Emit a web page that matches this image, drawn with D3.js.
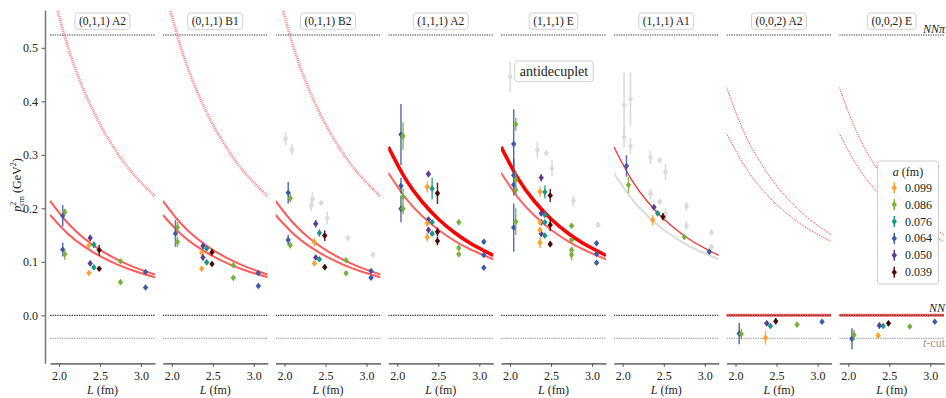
<!DOCTYPE html>
<html>
<head>
<meta charset="utf-8">
<script src="https://cdn.jsdelivr.net/npm/d3@7"></script>
<style>
body { margin: 0; background: #fff; }
text { font-family: "Liberation Serif", "DejaVu Serif", serif; fill: #222; }
</style>
</head>
<body>
<svg width="946" height="398"></svg>
<script>
var panelTitles = ['(0,1,1) A2', '(0,1,1) B1', '(0,1,1) B2', '(1,1,1) A2', '(1,1,1) E', '(1,1,1) A1', '(0,0,2) A2', '(0,0,2) E'];
var spacings = ['0.099', '0.086', '0.076', '0.064', '0.050', '0.039'];
var ensColors = ['#ffa02e', '#78b03a', '#17968a', '#3c5aa6', '#5e3a96', '#4a0a0a'];
var yTicks = [0.0, 0.1, 0.2, 0.3, 0.4, 0.5];
var xTicks = [2.0, 2.5, 3.0];

// thresholds
var NNPI = 0.524, NN = 0.0, TCUT = -0.043;

// non-interacting levels, read at these L values
var curveL = [1.89, 2.1, 2.3, 2.5, 2.7, 2.9, 3.17];
var levelHatch = [0.624, 0.506, 0.4216, 0.357, 0.306, 0.265, 0.222];
var levelUpper = [0.214, 0.1735, 0.1446, 0.1224, 0.105, 0.091, 0.0761];
var levelLower = [0.1876, 0.1535, 0.1293, 0.1106, 0.0957, 0.0838, 0.071];
var levelThick = [0.315, 0.255, 0.2127, 0.180, 0.1543, 0.1338, 0.112];
var levelThin = [0.2665, 0.2195, 0.186, 0.160, 0.1392, 0.1226, 0.1047];
var level002Upper = [0.426, 0.3435, 0.2864, 0.2424, 0.2078, 0.180, 0.150];
var level002Lower = [0.340, 0.2816, 0.2397, 0.2072, 0.1812, 0.1602, 0.1376];

// [ensemble, L (fm), p2 (GeV^2), error]
var p011A2 = [[3, 2.045, 0.186, 0.02], [1, 2.07, 0.193, 0.006], [3, 2.045, 0.123, 0.013], [1, 2.07, 0.114, 0.01],
  [4, 2.38, 0.1445, 0.006], [0, 2.365, 0.131, 0.005], [2, 2.425, 0.132, 0.006], [5, 2.49, 0.122, 0.01],
  [4, 2.38, 0.097, 0.005], [0, 2.365, 0.079, 0.004], [2, 2.425, 0.0897, 0.005], [5, 2.49, 0.087, 0.004],
  [1, 2.75, 0.101, 0.003], [1, 2.75, 0.062, 0.003], [3, 3.055, 0.081, 0.004], [3, 3.055, 0.052, 0.003]];
var p011B1 = [[3, 2.045, 0.153, 0.025], [1, 2.07, 0.1645, 0.01], [1, 2.07, 0.137, 0.01],
  [4, 2.38, 0.1295, 0.006], [0, 2.365, 0.117, 0.005], [2, 2.425, 0.125, 0.005], [5, 2.49, 0.118, 0.006],
  [4, 2.38, 0.108, 0.006], [0, 2.365, 0.087, 0.005], [2, 2.425, 0.099, 0.005], [5, 2.49, 0.096, 0.004],
  [1, 2.75, 0.0935, 0.003], [1, 2.75, 0.070, 0.003], [3, 3.055, 0.079, 0.003], [3, 3.055, 0.055, 0.003]];
var p011B2 = [[3, 2.045, 0.229, 0.02], [1, 2.07, 0.219, 0.008], [3, 2.045, 0.1407, 0.01], [1, 2.07, 0.131, 0.006],
  [4, 2.38, 0.171, 0.007], [2, 2.425, 0.154, 0.007], [5, 2.49, 0.149, 0.01], [0, 2.365, 0.1365, 0.008],
  [4, 2.38, 0.108, 0.004], [2, 2.425, 0.1047, 0.004], [0, 2.365, 0.097, 0.004], [5, 2.49, 0.090, 0.005],
  [1, 2.75, 0.103, 0.004], [1, 2.75, 0.0785, 0.003], [3, 3.055, 0.0828, 0.004], [3, 3.055, 0.0703, 0.004]];
var p111A2 = [[3, 2.045, 0.338, 0.057], [1, 2.07, 0.335, 0.026], [3, 2.045, 0.242, 0.015], [3, 2.045, 0.199, 0.025],
  [1, 2.07, 0.222, 0.015], [1, 2.07, 0.199, 0.01], [4, 2.38, 0.264, 0.006], [0, 2.365, 0.240, 0.01],
  [2, 2.425, 0.237, 0.02], [5, 2.49, 0.228, 0.02], [4, 2.38, 0.179, 0.005], [0, 2.365, 0.172, 0.006],
  [2, 2.425, 0.174, 0.004], [4, 2.38, 0.1595, 0.006], [0, 2.365, 0.146, 0.008], [2, 2.425, 0.1526, 0.004],
  [5, 2.49, 0.156, 0.008], [5, 2.49, 0.139, 0.008], [1, 2.75, 0.174, 0.005], [1, 2.75, 0.126, 0.005],
  [1, 2.75, 0.114, 0.004], [3, 3.055, 0.1376, 0.004], [3, 3.055, 0.1127, 0.004], [3, 3.055, 0.089, 0.004]];
var p111E = [[3, 2.045, 0.32, 0.065], [3, 2.045, 0.262, 0.03], [3, 2.045, 0.244, 0.02], [3, 2.045, 0.164, 0.045],
  [1, 2.07, 0.357, 0.012], [1, 2.07, 0.254, 0.015], [1, 2.07, 0.234, 0.01], [1, 2.07, 0.175, 0.025],
  [4, 2.38, 0.257, 0.007], [0, 2.365, 0.231, 0.01], [2, 2.425, 0.2305, 0.012], [5, 2.49, 0.224, 0.012],
  [4, 2.38, 0.1906, 0.005], [4, 2.38, 0.174, 0.005], [4, 2.38, 0.1526, 0.006],
  [2, 2.425, 0.1875, 0.004], [2, 2.425, 0.174, 0.004], [2, 2.425, 0.149, 0.004],
  [0, 2.365, 0.174, 0.006], [0, 2.365, 0.1595, 0.006], [0, 2.365, 0.1358, 0.01],
  [5, 2.49, 0.169, 0.012], [5, 2.49, 0.133, 0.006],
  [1, 2.75, 0.1675, 0.005], [1, 2.75, 0.1407, 0.004], [1, 2.75, 0.122, 0.005], [1, 2.75, 0.113, 0.01],
  [3, 3.055, 0.1346, 0.004], [3, 3.055, 0.1146, 0.004], [3, 3.055, 0.0983, 0.004]];
var p111A1 = [[3, 2.045, 0.279, 0.02], [1, 2.07, 0.2436, 0.015], [4, 2.38, 0.202, 0.005], [0, 2.365, 0.178, 0.01],
  [2, 2.425, 0.1906, 0.004], [5, 2.49, 0.1843, 0.007], [1, 2.75, 0.1464, 0.003], [3, 3.055, 0.119, 0.003]];
var p002A2 = [[3, 2.045, -0.034, 0.02], [1, 2.07, -0.035, 0.01], [0, 2.365, -0.042, 0.013], [4, 2.38, -0.015, 0.005],
  [2, 2.425, -0.020, 0.005], [5, 2.49, -0.011, 0.006], [1, 2.75, -0.0175, 0.003], [3, 3.055, -0.012, 0.003]];
var p002E = [[3, 2.045, -0.044, 0.02], [1, 2.07, -0.037, 0.01], [0, 2.365, -0.038, 0.006], [4, 2.38, -0.019, 0.006],
  [2, 2.425, -0.020, 0.004], [5, 2.49, -0.015, 0.004], [1, 2.75, -0.021, 0.003], [3, 3.055, -0.012, 0.003]];

// other multiplet levels, shown in gray: [L, p2, error]
var g011B2 = [[2.012, 0.33, 0.012], [2.089, 0.31, 0.01], [2.339, 0.218, 0.012], [2.325, 0.205, 0.01],
  [2.447, 0.21, 0.004], [2.52, 0.182, 0.012], [2.771, 0.1445, 0.004], [3.077, 0.113, 0.004]];
var g111E = [[2.003, 0.446, 0.028], [2.333, 0.309, 0.015], [2.442, 0.303, 0.004], [2.512, 0.275, 0.015],
  [2.772, 0.214, 0.01], [3.073, 0.169, 0.004]];
var g111A1 = [[2.016, 0.393, 0.06], [2.094, 0.404, 0.05], [2.016, 0.333, 0.02], [2.094, 0.316, 0.015],
  [2.338, 0.295, 0.012], [2.451, 0.29, 0.004], [2.52, 0.268, 0.015], [2.338, 0.227, 0.01],
  [2.451, 0.212, 0.004], [2.52, 0.19, 0.01], [2.777, 0.204, 0.008], [2.777, 0.1675, 0.008],
  [3.081, 0.155, 0.004], [3.081, 0.128, 0.004]];

var points = [p011A2, p011B1, p011B2, p111A2, p111E, p111A1, p002A2, p002E];
var grayPoints = [[], [], g011B2, [], g111E, g111A1, [], []];

var styles = {
  hatch: { stroke: '#ff5a5a', width: 2.8, dash: '0.8,1.1', opacity: 0.85 },
  pair: { stroke: '#ff5c5c', width: 2.1, dash: null, opacity: 1 },
  thick: { stroke: '#ff0000', width: 3.6, dash: null, opacity: 1 },
  thin: { stroke: '#ff6262', width: 2, dash: null, opacity: 1 },
  red1: { stroke: '#ff2e2e', width: 1.3, dash: null, opacity: 1 },
  gray: { stroke: '#dcdcdc', width: 2, dash: null, opacity: 1 },
  dot: { stroke: '#ff3030', width: 1, dash: '1,1', opacity: 1 }
};
var panelCurves = [
  [['hatch', levelHatch], ['pair', levelUpper], ['pair', levelLower]],
  [['hatch', levelHatch], ['pair', levelUpper], ['pair', levelLower]],
  [['hatch', levelHatch], ['pair', levelUpper], ['pair', levelLower]],
  [['thin', levelThin], ['thick', levelThick]],
  [['thin', levelThin], ['thick', levelThick]],
  [['gray', levelThin], ['red1', levelThick]],
  [['dot', level002Upper], ['dot', level002Lower]],
  [['dot', level002Upper], ['dot', level002Lower]]
];

var svg = d3.select('svg'),
    TOP = 10, BOTTOM = 363.3,
    PW = 105, PITCH = 112.75, X0 = 50;

var y = d3.scaleLinear().domain([-0.0897, 0.5707]).range([BOTTOM, TOP]);
var defs = svg.append('defs');

function diamond(sel, cx, cy, color) {
  sel.append('path')
    .attr('d', 'M' + cx + ',' + (cy - 3.3) + 'L' + (cx + 2.7) + ',' + cy + 'L' + cx + ',' + (cy + 3.3) + 'L' + (cx - 2.7) + ',' + cy + 'Z')
    .attr('fill', color);
}

panelTitles.forEach(function(title, i) {
  var x0 = X0 + PITCH * i;
  var x = d3.scaleLinear().domain([1.89, 3.17]).range([x0, x0 + PW]);
  var g = svg.append('g');

  defs.append('clipPath').attr('id', 'clip' + i)
    .append('rect').attr('x', x0).attr('y', TOP).attr('width', PW).attr('height', BOTTOM - TOP);
  var plot = g.append('g').attr('clip-path', 'url(#clip' + i + ')');

  // thresholds
  function hline(v, color, w, dash) {
    plot.append('line').attr('x1', x0).attr('x2', x0 + PW).attr('y1', y(v)).attr('y2', y(v))
      .attr('stroke', color).attr('stroke-width', w).attr('stroke-dasharray', dash);
  }
  hline(NNPI, '#444', 1.2, '1.4,1');
  if (i >= 6) {
    hline(NN, '#f06262', 3, null);
    hline(NN, '#7a3030', 1.2, '1.4,1');
  } else {
    hline(NN, '#444', 1.2, '1.4,1');
  }
  hline(TCUT, '#aaa', 1.2, '1.4,1');

  // levels
  var line = d3.line().curve(d3.curveNatural)
    .x(function(d) { return x(d[0]); })
    .y(function(d) { return y(d[1]); });
  panelCurves[i].forEach(function(c) {
    var st = styles[c[0]];
    plot.append('path')
      .attr('d', line(curveL.map(function(L, k) { return [L, c[1][k]]; })))
      .attr('fill', 'none').attr('stroke', st.stroke).attr('stroke-width', st.width)
      .attr('stroke-opacity', st.opacity).attr('stroke-dasharray', st.dash);
  });

  // gray points
  grayPoints[i].forEach(function(d) {
    plot.append('line').attr('x1', x(d[0])).attr('x2', x(d[0]))
      .attr('y1', y(d[1] - d[2])).attr('y2', y(d[1] + d[2]))
      .attr('stroke', '#dadada').attr('stroke-width', 1.6);
    diamond(plot, x(d[0]), y(d[1]), '#dadada');
  });

  // data points
  points[i].forEach(function(d) {
    var col = ensColors[d[0]];
    plot.append('line').attr('x1', x(d[1])).attr('x2', x(d[1]))
      .attr('y1', y(d[2] - d[3])).attr('y2', y(d[2] + d[3]))
      .attr('stroke', col).attr('stroke-width', 1.5).attr('stroke-opacity', 0.85);
    diamond(plot, x(d[1]), y(d[2]), col);
  });

  // x axis
  var ax = g.append('g').attr('transform', 'translate(0,' + BOTTOM + ')')
    .call(d3.axisBottom(x).tickValues(xTicks).tickFormat(d3.format('.1f')).tickSize(3.5).tickSizeOuter(0).tickPadding(5));
  ax.attr('font-family', null).attr('font-size', null);
  ax.select('.domain').attr('stroke', '#777').attr('stroke-width', 1.7);
  ax.selectAll('.tick line').attr('stroke', '#555');
  ax.selectAll('.tick text').attr('font-size', 12).attr('fill', '#222');

  var xl = g.append('text').attr('x', x0 + PW / 2).attr('y', 394).attr('text-anchor', 'middle').attr('font-size', 12);
  xl.append('tspan').attr('font-style', 'italic').text('L');
  xl.append('tspan').text(' (fm)');

  // title box
  var tg = g.append('g');
  var tt = tg.append('text').attr('x', x0 + PW / 2).attr('y', 25.3).attr('text-anchor', 'middle')
    .attr('font-size', 11.5).text(title);
  var w = tt.node().getComputedTextLength();
  tg.insert('rect', 'text').attr('x', x0 + PW / 2 - w / 2 - 4).attr('y', 13).attr('width', w + 8).attr('height', 16.3)
    .attr('rx', 3).attr('fill', '#fff').attr('stroke', '#d0d0d0').attr('stroke-width', 1);
});

// y axis
var ay = svg.append('g').attr('transform', 'translate(45,0)')
  .call(d3.axisLeft(y).tickValues(yTicks).tickFormat(d3.format('.1f')).tickSize(3.5).tickSizeOuter(0).tickPadding(3.5));
ay.attr('font-family', null).attr('font-size', null);
ay.select('.domain').attr('stroke', '#777').attr('stroke-width', 1.5);
ay.selectAll('.tick line').attr('stroke', '#555');
ay.selectAll('.tick text').attr('font-size', 12).attr('fill', '#222');

var yl = svg.append('text').attr('transform', 'translate(21,185) rotate(-90)').attr('text-anchor', 'middle').attr('font-size', 12);
yl.append('tspan').attr('font-style', 'italic').text('p');
yl.append('tspan').attr('font-size', 8).attr('dy', -5).text('2');
yl.append('tspan').attr('font-size', 8).attr('dx', -4).attr('dy', 8).text('cm');
yl.append('tspan').attr('dy', -3).text(' (GeV');
yl.append('tspan').attr('font-size', 8).attr('dy', -5).text('2');
yl.append('tspan').attr('dy', 5).text(')');

// threshold labels
svg.append('text').attr('x', 945).attr('y', 33).attr('text-anchor', 'end').attr('font-size', 12).attr('font-style', 'italic').text('NNπ');
svg.append('text').attr('x', 945).attr('y', 312).attr('text-anchor', 'end').attr('font-size', 12).attr('font-style', 'italic').text('NN');
var tc = svg.append('text').attr('x', 945).attr('y', 347).attr('text-anchor', 'end').attr('font-size', 12).style('fill', '#999');
tc.append('tspan').attr('font-style', 'italic').style('fill', '#999').text('t');
tc.append('tspan').style('fill', '#999').text('-cut');

// antidecuplet box
var ab = svg.append('g');
var at = ab.append('text').attr('x', 554).attr('y', 76).attr('text-anchor', 'middle').attr('font-size', 14).text('antidecuplet');
var aw = at.node().getComputedTextLength();
ab.insert('rect', 'text').attr('x', 554 - aw / 2 - 5).attr('y', 61).attr('width', aw + 10).attr('height', 20.7)
  .attr('rx', 3).attr('fill', '#fff').attr('stroke', '#d0d0d0');

// legend
var lg = svg.append('g');
lg.append('rect').attr('x', 877.5).attr('y', 161).attr('width', 61).attr('height', 123).attr('rx', 3)
  .attr('fill', '#fff').attr('fill-opacity', 0.8).attr('stroke', '#cccccc');
var lt = lg.append('text').attr('x', 908).attr('y', 176).attr('text-anchor', 'middle').attr('font-size', 12);
lt.append('tspan').attr('font-style', 'italic').text('a');
lt.append('tspan').text(' (fm)');
spacings.forEach(function(s, k) {
  var cy = 187.7 + 16.9 * k;
  lg.append('line').attr('x1', 894.3).attr('x2', 894.3).attr('y1', cy - 5.5).attr('y2', cy + 5.5)
    .attr('stroke', ensColors[k]).attr('stroke-width', 1.5);
  diamond(lg, 894.3, cy, ensColors[k]);
  lg.append('text').attr('x', 905).attr('y', cy + 4).attr('font-size', 12).text(s);
});
</script>
</body>
</html>
